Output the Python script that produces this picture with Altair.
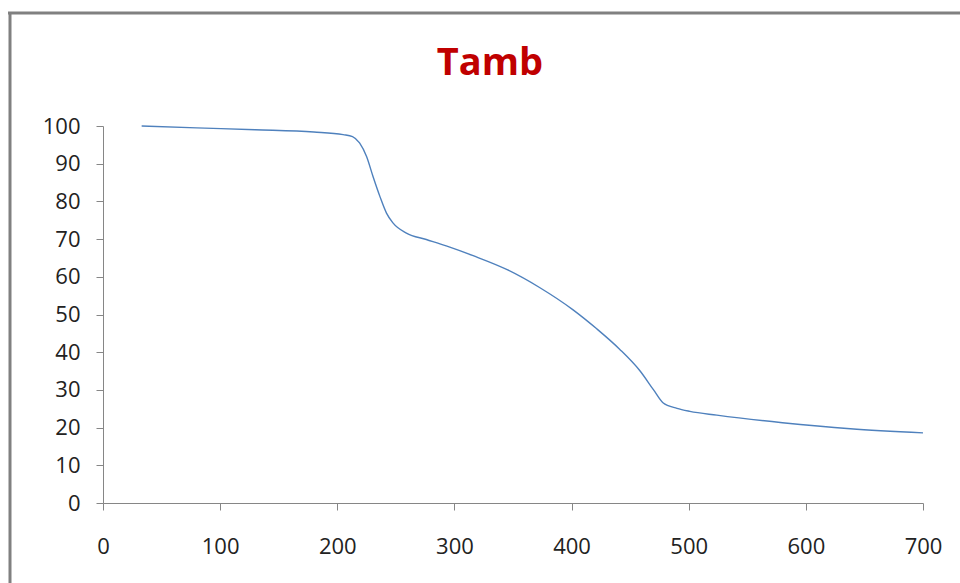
import altair as alt
import pandas as pd

# Temperature (x) and remaining mass % (y)
temps = [33, 80, 130, 180, 205, 213, 219, 225, 230.5, 236.5, 242, 247.5, 259, 276, 293,
         316, 345, 373, 401, 421.5, 441, 458, 470, 478, 490, 501, 524, 580, 638, 700]
mass = [100.0, 99.5, 99.0, 98.4, 97.7, 97.2, 95.5, 91.9, 86.6, 81.2, 76.9, 74.3, 71.6, 69.9, 68.2,
        65.6, 61.9, 57.1, 51.3, 46.2, 40.8, 35.2, 30.0, 26.6, 25.1, 24.3, 23.3, 21.3, 19.7, 18.6]
x_ticks = [0, 100, 200, 300, 400, 500, 600, 700]
y_ticks = [0, 10, 20, 30, 40, 50, 60, 70, 80, 90, 100]
title_text = "Tamb"

df = pd.DataFrame({"T": temps, "m": mass})

FONT = "Open Sans"
AXIS_COLOR = "#868686"

line = alt.Chart(df).mark_line(color="#4F81BD", strokeWidth=1.4, interpolate="monotone").encode(
    x=alt.X("T:Q", scale=alt.Scale(domain=[0, 700], nice=False, zero=False),
            axis=alt.Axis(values=x_ticks, title=None, grid=False, labelFontSize=22,
                          labelFont=FONT, labelColor="#222222", domainColor=AXIS_COLOR,
                          tickColor=AXIS_COLOR, tickSize=7, labelPadding=26,
                          labelFlush=False)),
    y=alt.Y("m:Q", scale=alt.Scale(domain=[0, 100], nice=False),
            axis=alt.Axis(values=y_ticks, title=None, grid=False, labelFontSize=22,
                          labelFont=FONT, labelColor="#222222", domainColor=AXIS_COLOR,
                          tickColor=AXIS_COLOR, tickSize=7, labelPadding=16)),
)

single = pd.DataFrame({"k": [0]})
title = alt.Chart(single).mark_text(
    font=FONT, fontSize=38, fontWeight="bold", color="#C00000",
    align="center", baseline="alphabetic"
).encode(x=alt.value(387), y=alt.value(-51), text=alt.value(title_text))

top_border = alt.Chart(single).mark_rule(color="#808080", strokeWidth=3).encode(
    x=alt.value(-95), x2=alt.value(860), y=alt.value(-113)
)
left_border = alt.Chart(single).mark_rule(color="#808080", strokeWidth=3).encode(
    x=alt.value(-93), y=alt.value(-114), y2=alt.value(460)
)

chart = alt.layer(line, title, top_border, left_border).properties(
    width=820,
    height=377,
    autosize=alt.AutoSizeParams(type="none"),
    padding={"left": 103, "top": 126, "right": 37, "bottom": 80},
    background="white",
).configure_view(stroke=None)

chart.save("out.html", embed_options={"renderer": "svg", "actions": False})
